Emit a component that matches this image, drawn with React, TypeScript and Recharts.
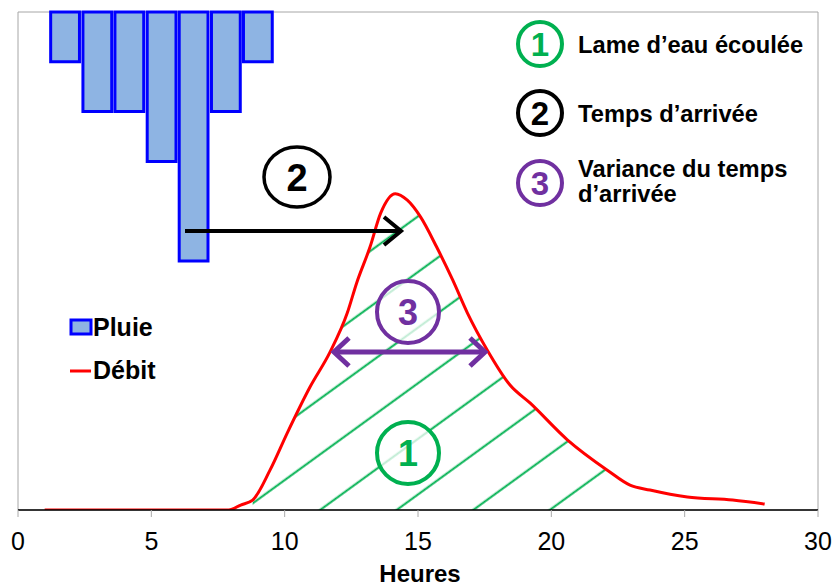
import {
  ComposedChart,
  Bar,
  Line,
  Area,
  XAxis,
  YAxis,
  ReferenceArea,
} from 'recharts'

// rain (hanging bars, top axis reversed)
const rainHours = [1.75, 2.96, 4.16, 5.37, 6.57, 7.78, 8.98]
const rainValues = [1, 2, 2, 3, 5, 2, 1]

// discharge curve
const flowHours = [
  1, 7.9, 8.35, 8.8, 9.45, 10.1, 10.95, 11.7, 12.35, 12.7, 13.2, 13.6, 14.15,
  14.6, 15.1, 15.7, 16.3, 16.85, 17.6, 18.45, 19.2, 20.6, 22.1, 22.95, 23.7,
  25.1, 26.8, 28,
]
const flowValues = [
  0, 0, 0.1, 0.2, 0.8, 1.55, 2.47, 3.17, 3.96, 4.56, 5.28, 5.96, 6.35, 6.22,
  5.88, 5.28, 4.62, 3.96, 3.21, 2.51, 2.15, 1.41, 0.8, 0.5, 0.4, 0.26, 0.2,
  0.12,
]

// hatched part (lame d'eau écoulée)
const hatchStart = 8.8
const hatchEnd = 22.1

const xTicks = [0, 5, 10, 15, 20, 25, 30]

const GREEN = '#00B050'
const PURPLE = '#7030A0'
const FONT = '"Liberation Sans", Arial, sans-serif'

const rainData = rainHours.map((h, i) => ({ h, rain: rainValues[i] }))
const flowData = flowHours.map((h, i) => ({ h, flow: flowValues[i] }))
const hatchData = flowData
  .filter((d) => d.h >= hatchStart && d.h <= hatchEnd)
  .map((d) => ({ h: d.h, hatch: d.flow }))

function NumCircle({ cx, cy, r, color, n, size }: any) {
  return (
    <g>
      <circle cx={cx} cy={cy} r={r} fill="#fff" fillOpacity={0.75} stroke={color} strokeWidth={4} />
      <text
        x={cx}
        y={cy + size * 0.36}
        textAnchor="middle"
        fontFamily={FONT}
        fontWeight="bold"
        fontSize={size}
        fill={color}
      >
        {n}
      </text>
    </g>
  )
}

export default function App() {
  return (
    <div style={{ position: 'absolute', left: 0, top: 0, width: 835, height: 587, background: '#fff' }}>
      <ComposedChart
        width={835}
        height={587}
        data={rainData}
        margin={{ top: 12, right: 17, bottom: 17, left: 18 }}
      >
        <defs>
          <pattern
            id="hatch"
            patternUnits="userSpaceOnUse"
            width={20}
            height={45}
            patternTransform="rotate(-36)"
          >
            <line x1={0} y1={15.7} x2={20} y2={15.7} stroke={GREEN} strokeWidth={2} />
          </pattern>
        </defs>
        <XAxis
          xAxisId="t"
          dataKey="h"
          type="number"
          domain={[0, 30]}
          ticks={xTicks}
          allowDataOverflow
          height={60}
          tickSize={7}
          tickMargin={15}
          axisLine={{ stroke: '#000', strokeWidth: 1.5 }}
          tickLine={{ stroke: '#aaa' }}
          tick={{ fill: '#000', fontSize: 25, fontFamily: FONT }}
        />
        <XAxis
          xAxisId="rainX"
          dataKey="h"
          type="number"
          domain={[0, 30]}
          orientation="top"
          height={0}
          hide
          allowDataOverflow
        />
        <YAxis yAxisId="flow" hide type="number" domain={[0, 10]} allowDataOverflow />
        <YAxis yAxisId="rain" hide type="number" domain={[0, 10]} reversed orientation="right" />
        <ReferenceArea
          xAxisId="t"
          yAxisId="flow"
          x1={0}
          x2={30}
          y1={0}
          y2={10}
          fill="none"
          stroke="#a6a6a6"
          strokeWidth={1}
        />
        <Bar
          xAxisId="rainX"
          yAxisId="rain"
          dataKey="rain"
          barSize={32}
          fill="#8EB4E3"
          stroke="#0000FF"
          strokeWidth={3}
          isAnimationActive={false}
        />
        <Area
          xAxisId="t"
          yAxisId="flow"
          data={hatchData}
          dataKey="hatch"
          type="monotone"
          stroke="none"
          fill="url(#hatch)"
          fillOpacity={1}
          isAnimationActive={false}
        />
        <Line
          xAxisId="t"
          yAxisId="flow"
          data={flowData}
          dataKey="flow"
          type="monotone"
          stroke="#FF0000"
          strokeWidth={3}
          dot={false}
          isAnimationActive={false}
        />
      </ComposedChart>

      <svg
        width={835}
        height={587}
        style={{ position: 'absolute', left: 0, top: 0, pointerEvents: 'none' }}
      >
        {/* axis title */}
        <text x={420} y={582} textAnchor="middle" fontFamily={FONT} fontWeight="bold" fontSize={24}>
          Heures
        </text>

        {/* arrows */}
        <line x1={185} y1={231} x2={400} y2={231} stroke="#000" strokeWidth={4} />
        <polyline points="384,217 401,231 384,245" fill="none" stroke="#000" strokeWidth={4} />
        <line x1={334} y1={352} x2={485} y2={352} stroke={PURPLE} strokeWidth={5} />
        <polyline points="349,338 334,352 349,366" fill="none" stroke={PURPLE} strokeWidth={5} />
        <polyline points="470,338 485,352 470,366" fill="none" stroke={PURPLE} strokeWidth={5} />

        {/* circled numbers in the plot */}
        <ellipse cx={297} cy={177} rx={33} ry={30} fill="#fff" stroke="#000" strokeWidth={3.5} />
        <text x={297} y={191} textAnchor="middle" fontFamily={FONT} fontWeight="bold" fontSize={38}>
          2
        </text>
        <NumCircle cx={408} cy={312} r={31} color={PURPLE} n="3" size={36} />
        <NumCircle cx={408} cy={453} r={31} color={GREEN} n="1" size={36} />

        {/* key, top right */}
        <NumCircle cx={540} cy={44} r={22} color={GREEN} n="1" size={33} />
        <text x={578} y={53} fontFamily={FONT} fontWeight="bold" fontSize={23.7}>
          Lame d’eau écoulée
        </text>
        <NumCircle cx={540} cy={113} r={22} color="#000" n="2" size={33} />
        <text x={578} y={122} fontFamily={FONT} fontWeight="bold" fontSize={23.7}>
          Temps d’arrivée
        </text>
        <NumCircle cx={540} cy={183} r={22} color={PURPLE} n="3" size={33} />
        <text x={578} y={177} fontFamily={FONT} fontWeight="bold" fontSize={23.7}>
          Variance du temps
        </text>
        <text x={578} y={202} fontFamily={FONT} fontWeight="bold" fontSize={23.7}>
          d’arrivée
        </text>

        {/* series key */}
        <rect x={71} y={320} width={20} height={14} fill="#8EB4E3" stroke="#0000FF" strokeWidth={3} />
        <text x={93} y={336} fontFamily={FONT} fontWeight="bold" fontSize={25}>
          Pluie
        </text>
        <line x1={70} y1={371} x2={91} y2={371} stroke="#FF0000" strokeWidth={3} />
        <text x={93} y={379} fontFamily={FONT} fontWeight="bold" fontSize={25}>
          Débit
        </text>
      </svg>
    </div>
  )
}
